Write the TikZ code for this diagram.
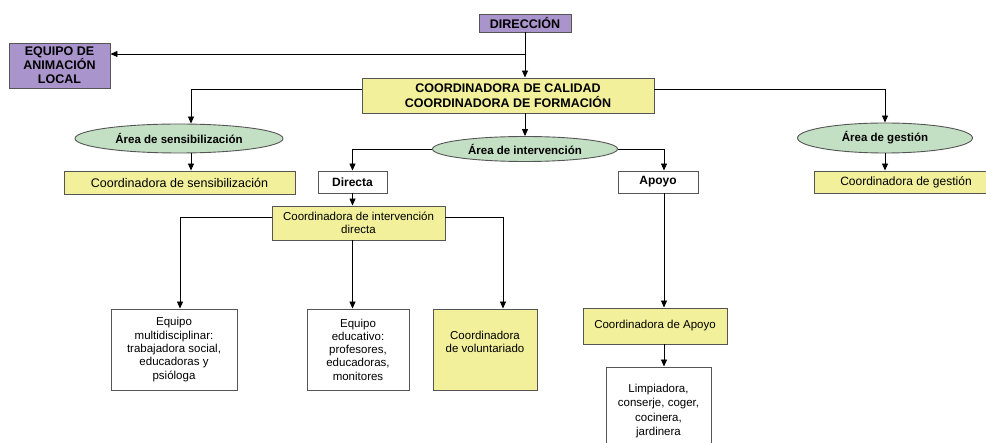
\documentclass[tikz,border=0pt]{standalone}
\usepackage{fontspec}
\setmainfont{Liberation Sans}
\usetikzlibrary{shapes.geometric,arrows.meta}
\definecolor{purp}{RGB}{170,148,204}
\definecolor{yel}{RGB}{242,240,154}
\definecolor{grn}{RGB}{196,224,196}
\definecolor{bord}{RGB}{85,85,85}
\begin{document}
\begin{tikzpicture}[x=1pt,y=-1pt,
 box/.style={draw=bord, line width=0.9pt, inner sep=0pt, align=center},
 purpbox/.style={box, fill=purp, font=\fontsize{12.5}{14}\selectfont\bfseries},
 yelbox/.style={box, fill=yel},
 whitebox/.style={box, fill=white},
 oval/.style={ellipse, draw=bord, fill=grn, inner sep=0pt, line width=0.9pt, font=\fontsize{11.5}{13}\selectfont\bfseries},
 reg/.style={font=\fontsize{11.5}{13.3}\selectfont},
 conn/.style={line width=0.9pt, draw=black},
 arr/.style={conn, -{Triangle[length=7pt,width=6pt]}},
]
\useasboundingbox (0,0) rectangle (986,443);
\fill[white] (0,0) rectangle (986,443);
% top
\node[purpbox, minimum width=92pt, minimum height=18pt] (dir) at (525,23) {DIRECCIÓN};
\node[purpbox, minimum width=101pt, minimum height=45pt] (eq) at (59.5,65.5) {EQUIPO DE\\ANIMACIÓN\\LOCAL};
\node[yelbox, minimum width=292pt, minimum height=35pt, font=\fontsize{12.5}{15}\selectfont\bfseries] (cal) at (508,95.5) {COORDINADORA DE CALIDAD\\COORDINADORA DE FORMACIÓN};
% areas
\node[oval, minimum width=208pt, minimum height=29pt] (sens) at (179,138.5) {Área de sensibilización};
\node[oval, minimum width=185pt, minimum height=25pt] (int) at (525,149) {Área de intervención};
\node[oval, minimum width=175pt, minimum height=30pt] (gest) at (885,138) {Área de gestión};
% second row
\node[yelbox, minimum width=231pt, minimum height=23pt, font=\fontsize{12.5}{14}\selectfont] (cs) at (179.5,182.5) {Coordinadora de sensibilización};
\node[yelbox, minimum width=184pt, minimum height=22pt, font=\fontsize{12}{14}\selectfont] (cg) at (906,182) {Coordinadora de gestión};
\node[whitebox, minimum width=69pt, minimum height=22pt, font=\fontsize{12}{14}\selectfont\bfseries] (directa) at (352.5,182) {Directa};
\node[whitebox, minimum width=80pt, minimum height=22pt, font=\fontsize{12}{14}\selectfont\bfseries] (apoyo) at (658,182) {Apoyo};
\node[yelbox, reg, minimum width=173pt, minimum height=34pt, font=\fontsize{11.5}{12.5}\selectfont] (cid) at (358.5,223) {Coordinadora de intervención\\directa};
% bottom row
\node[whitebox, reg, minimum width=126pt, minimum height=81pt] (em) at (174,349.5) {Equipo\\multidisciplinar:\\trabajadora social,\\educadoras y\\psióloga};
\node[whitebox, reg, minimum width=102pt, minimum height=81pt] (edu) at (358,349.5) {Equipo\\educativo:\\profesores,\\educadoras,\\monitores};
\node[yelbox, reg, minimum width=104pt, minimum height=81pt, font=\fontsize{11.5}{12.5}\selectfont] (vol) at (485,349.5) {Coordinadora\\de voluntariado\\[3pt]\mbox{}};
\node[yelbox, reg, minimum width=144pt, minimum height=36pt] (ca) at (655,326) {Coordinadora de Apoyo};
\node[whitebox, reg, minimum width=105pt, minimum height=88pt, font=\fontsize{11.5}{14.5}\selectfont] (lim) at (658.5,411) {Limpiadora,\\conserje, coger,\\cocinera,\\jardinera};
% connectors
\draw[arr] (dir.south) -- (dir.south |- cal.north);
\draw[arr] (dir.south |- 0,54) -- (eq.east |- 0,54);
\draw[arr] (cal.west |- 0,89) -| (191,0 |- sens.north);
\draw[arr] (191,0 |- sens.south) -- (191,0 |- cs.north);
\draw[arr] (cal.east |- 0,89) -| (gest.north);
\draw[arr] (gest.south) -- (gest.south |- cg.north);
\draw[arr] (int.north |- cal.south) -- (int.north);
\draw[arr] (int.west) -| (directa.north);
\draw[arr] (int.east) -| (664,0 |- apoyo.north);
\draw[arr] (directa.south) -- (directa.south |- cid.north);
\draw[arr] (cid.west |- 0,217) -| (180,0 |- em.north);
\draw[arr] (directa.south |- cid.south) -- (directa.south |- edu.north);
\draw[arr] (cid.east |- 0,217) -| (503,0 |- vol.north);
\draw[arr] (664,0 |- apoyo.south) -- (664,0 |- ca.north);
\draw[arr] (664,0 |- ca.south) -- (664,0 |- lim.north);
\end{tikzpicture}
\end{document}
